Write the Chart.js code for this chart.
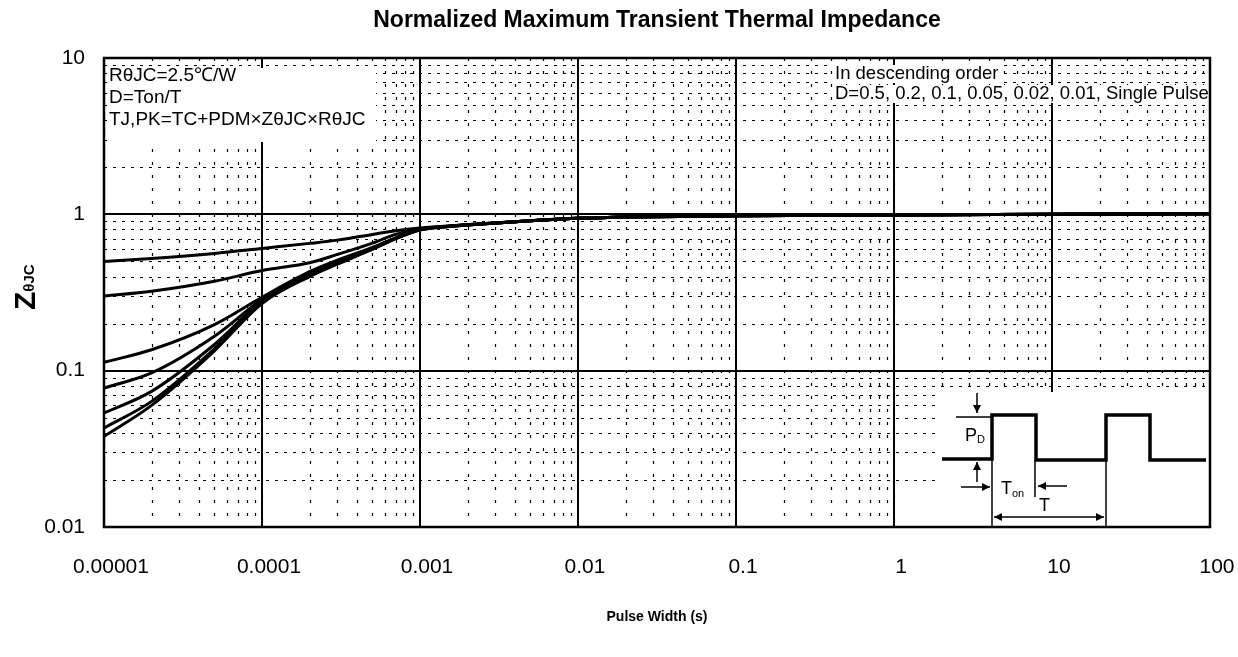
<!DOCTYPE html>
<html><head><meta charset="utf-8">
<script src="https://cdn.jsdelivr.net/npm/chart.js@4.4.0/dist/chart.umd.min.js"></script>
<style>html,body{margin:0;padding:0;background:#fff;}#wrap{width:1238px;height:657px;}</style>
</head><body><div id="wrap"><canvas id="c" width="1238" height="657"></canvas></div>
<script>
// ---- data ----
const pulseWidths = [1e-5, 2e-5, 5e-5, 1e-4, 2e-4, 3e-4, 5e-4, 7e-4, 1e-3, 1.5e-3, 2e-3, 5e-3, 1e-2, 1e-1, 1, 10, 100];
const zD05    = [0.500, 0.522, 0.562, 0.605, 0.652, 0.684, 0.744, 0.785, 0.818, 0.843, 0.860, 0.910, 0.945, 0.978, 0.990, 1.000, 1.010];
const zD02    = [0.300, 0.322, 0.373, 0.437, 0.490, 0.554, 0.655, 0.745, 0.810, 0.840, 0.859, 0.910, 0.945, 0.978, 0.990, 1.000, 1.010];
const zD01    = [0.113, 0.136, 0.197, 0.295, 0.430, 0.510, 0.615, 0.708, 0.802, 0.838, 0.858, 0.910, 0.945, 0.978, 0.990, 1.000, 1.010];
const zD005   = [0.0774, 0.0967, 0.166, 0.285, 0.420, 0.500, 0.610, 0.704, 0.799, 0.837, 0.857, 0.910, 0.945, 0.978, 0.990, 1.000, 1.010];
const zD002   = [0.0536, 0.0737, 0.147, 0.278, 0.410, 0.490, 0.605, 0.701, 0.797, 0.836, 0.856, 0.910, 0.945, 0.978, 0.990, 1.000, 1.010];
const zD001   = [0.0430, 0.0636, 0.138, 0.272, 0.405, 0.485, 0.600, 0.699, 0.795, 0.835, 0.855, 0.910, 0.945, 0.978, 0.990, 1.000, 1.010];
const zSingle = [0.0380, 0.0600, 0.134, 0.269, 0.400, 0.480, 0.598, 0.697, 0.793, 0.834, 0.855, 0.910, 0.945, 0.978, 0.990, 1.000, 1.010];
const seriesLabels = ['D=0.5', 'D=0.2', 'D=0.1', 'D=0.05', 'D=0.02', 'D=0.01', 'Single Pulse'];
const seriesValues = [zD05, zD02, zD01, zD005, zD002, zD001, zSingle];
const xTickValues = [1e-5, 1e-4, 1e-3, 1e-2, 1e-1, 1, 10, 100];
const xTickLabels = ['0.00001', '0.0001', '0.001', '0.01', '0.1', '1', '10', '100'];
const yTickValues = [0.01, 0.1, 1, 10];
const yTickLabels = ['0.01', '0.1', '1', '10'];
const noteLeft = ['R\u03B8JC=2.5\u2103/W', 'D=Ton/T', 'TJ,PK=TC+PDM\u00D7Z\u03B8JC\u00D7R\u03B8JC'];
const noteRight = ['In descending order', 'D=0.5, 0.2, 0.1, 0.05, 0.02, 0.01, Single Pulse'];

const FONT = "'Liberation Sans', Arial, sans-serif";

function arrow(ctx, x1, y1, x2, y2) {
  ctx.beginPath(); ctx.moveTo(x1, y1); ctx.lineTo(x2, y2); ctx.stroke();
  const ang = Math.atan2(y2 - y1, x2 - x1), L = 8, W = 4;
  ctx.beginPath();
  ctx.moveTo(x2, y2);
  ctx.lineTo(x2 - L * Math.cos(ang) + W * Math.sin(ang), y2 - L * Math.sin(ang) - W * Math.cos(ang));
  ctx.lineTo(x2 - L * Math.cos(ang) - W * Math.sin(ang), y2 - L * Math.sin(ang) + W * Math.cos(ang));
  ctx.closePath(); ctx.fill();
}

const gridPlugin = {
  id: 'customGrid',
  beforeDatasetsDraw(chart) {
    const {ctx, chartArea: a, scales: {x, y}} = chart;
    ctx.save();
    ctx.strokeStyle = '#000';
    // minor grid
    ctx.lineWidth = 1.2;
    const ex0 = Math.round(Math.log10(x.min)), ex1 = Math.round(Math.log10(x.max));
    ctx.setLineDash([3, 10]);
    for (let e = ex0; e < ex1; e++) {
      for (let k = 2; k <= 9; k++) {
        const px = Math.round(x.getPixelForValue(k * Math.pow(10, e))) + 0.5;
        ctx.beginPath(); ctx.moveTo(px, a.top); ctx.lineTo(px, a.bottom); ctx.stroke();
      }
    }
    const ey0 = Math.round(Math.log10(y.min)), ey1 = Math.round(Math.log10(y.max));
    ctx.setLineDash([3, 6]);
    for (let e = ey0; e < ey1; e++) {
      for (let k = 2; k <= 9; k++) {
        const py = Math.round(y.getPixelForValue(k * Math.pow(10, e))) + 0.5;
        ctx.beginPath(); ctx.moveTo(a.left, py); ctx.lineTo(a.right, py); ctx.stroke();
      }
    }
    // major grid
    ctx.setLineDash([]);
    ctx.lineWidth = 2;
    for (let e = ex0 + 1; e < ex1; e++) {
      const px = Math.round(x.getPixelForValue(Math.pow(10, e)));
      ctx.beginPath(); ctx.moveTo(px, a.top); ctx.lineTo(px, a.bottom); ctx.stroke();
    }
    for (let e = ey0 + 1; e < ey1; e++) {
      const py = Math.round(y.getPixelForValue(Math.pow(10, e)));
      ctx.beginPath(); ctx.moveTo(a.left, py); ctx.lineTo(a.right, py); ctx.stroke();
    }
    // annotation boxes
    ctx.fillStyle = '#fff';
    ctx.fillRect(a.left + 4, a.top + 10, 268, 74);
    ctx.font = '19px ' + FONT;
    ctx.textBaseline = 'middle';
    ctx.textAlign = 'left';
    ctx.fillStyle = '#000';
    noteLeft.forEach((t, i) => ctx.fillText(t, a.left + 5, a.top + 18 + i * 22));
    // right notes
    const rx = 835;
    ctx.font = '18.5px ' + FONT;
    noteRight.forEach((t, i) => {
      const w = ctx.measureText(t).width;
      const cy = a.top + 16 + i * 20;
      ctx.fillStyle = '#fff';
      ctx.fillRect(rx - 2, cy - 9, Math.min(w + 4, a.right - rx + 1), 18);
      ctx.fillStyle = '#000';
      ctx.fillText(t, rx, cy);
    });
    // inset
    ctx.fillStyle = '#fff';
    ctx.fillRect(940, 392, a.right - 942, a.bottom - 393);
    ctx.fillStyle = '#000';
    ctx.strokeStyle = '#000';
    ctx.lineWidth = 3.5;
    ctx.lineJoin = 'miter';
    ctx.beginPath();
    ctx.moveTo(942, 459); ctx.lineTo(992, 459); ctx.lineTo(992, 415); ctx.lineTo(1036, 415);
    ctx.lineTo(1036, 460); ctx.lineTo(1106, 460); ctx.lineTo(1106, 415); ctx.lineTo(1150, 415);
    ctx.lineTo(1150, 460); ctx.lineTo(1206, 460);
    ctx.stroke();
    ctx.lineWidth = 1.5;
    ctx.beginPath(); ctx.moveTo(956, 417); ctx.lineTo(992, 417); ctx.stroke();
    ctx.beginPath(); ctx.moveTo(992, 459); ctx.lineTo(992, 526); ctx.stroke();
    ctx.beginPath(); ctx.moveTo(1035, 460); ctx.lineTo(1035, 497); ctx.stroke();
    ctx.beginPath(); ctx.moveTo(1106, 460); ctx.lineTo(1106, 526); ctx.stroke();
    arrow(ctx, 977, 393, 977, 413);
    arrow(ctx, 977, 482, 977, 462);
    arrow(ctx, 961, 487, 990, 487);
    arrow(ctx, 1067, 486, 1038, 486);
    arrow(ctx, 1050, 517, 994, 517);
    arrow(ctx, 1050, 517, 1104, 517);
    ctx.textBaseline = 'alphabetic';
    ctx.font = '18px ' + FONT;
    ctx.fillText('P', 965, 441);
    ctx.fillText('T', 1001, 494);
    ctx.fillText('T', 1039, 511);
    ctx.font = '11px ' + FONT;
    ctx.fillText('D', 977, 443);
    ctx.fillText('on', 1012, 497);
    ctx.restore();
  },
  afterDatasetsDraw(chart) {
    const {ctx, chartArea: a} = chart;
    ctx.save();
    ctx.strokeStyle = '#000';
    ctx.lineWidth = 2.5;
    ctx.strokeRect(a.left, a.top, a.right - a.left, a.bottom - a.top);
    ctx.restore();
  },
  afterDraw(chart) {
    const {ctx} = chart;
    ctx.save();
    ctx.translate(30, 285);
    ctx.rotate(-Math.PI / 2);
    ctx.fillStyle = '#000';
    ctx.textBaseline = 'alphabetic';
    ctx.textAlign = 'left';
    ctx.font = 'bold 30px ' + FONT;
    ctx.fillText('Z', -25, 5);
    const zw = ctx.measureText('Z').width;
    ctx.font = 'bold 15px ' + FONT;
    ctx.fillText('\u03B8JC', -25 + zw, 4);
    ctx.restore();
  }
};

const datasets = seriesValues.map((vals, i) => ({
  label: seriesLabels[i],
  data: pulseWidths.map((px, j) => ({x: px, y: vals[j]})),
  borderColor: '#000',
  borderWidth: 3,
  pointRadius: 0,
  fill: false,
  cubicInterpolationMode: 'monotone'
}));

new Chart(document.getElementById('c'), {
  type: 'line',
  data: {datasets},
  options: {
    responsive: false,
    animation: false,
    devicePixelRatio: 1,
    layout: {padding: {left: 0, right: 28, top: 0, bottom: 0}, autoPadding: false},
    plugins: {
      legend: {display: false},
      tooltip: {enabled: false},
      title: {
        display: true,
        fullSize: false,
        text: 'Normalized Maximum Transient Thermal Impedance',
        color: '#000',
        font: {family: FONT, size: 23, weight: 'bold', lineHeight: 1.2},
        padding: {top: 7, bottom: 23.4}
      }
    },
    scales: {
      x: {
        type: 'logarithmic',
        min: 1e-5, max: 100,
        afterBuildTicks: s => { s.ticks = xTickValues.map(v => ({value: v})); },
        afterFit: s => { s.height = 130; s.paddingLeft = 0; s.paddingRight = 0; },
        ticks: {
          autoSkip: false, maxRotation: 0, color: '#000',
          font: {family: FONT, size: 21},
          padding: 28, labelOffset: 7,
          callback: v => xTickLabels[xTickValues.indexOf(v)]
        },
        grid: {display: false, drawTicks: false},
        border: {display: false},
        title: {
          display: true, text: 'Pulse Width (s)', color: '#000',
          font: {family: FONT, size: 14, weight: 'bold', lineHeight: 1.2},
          padding: {top: 0, bottom: 31}
        }
      },
      y: {
        type: 'logarithmic',
        min: 0.01, max: 10,
        afterBuildTicks: s => { s.ticks = yTickValues.map(v => ({value: v})); },
        afterFit: s => { s.width = 104; s.paddingTop = 0; s.paddingBottom = 0; },
        ticks: {
          autoSkip: false, color: '#000',
          font: {family: FONT, size: 21},
          padding: 19,
          callback: v => yTickLabels[yTickValues.indexOf(v)]
        },
        grid: {display: false, drawTicks: false},
        border: {display: false}
      }
    }
  },
  plugins: [gridPlugin]
});
</script></body></html>
